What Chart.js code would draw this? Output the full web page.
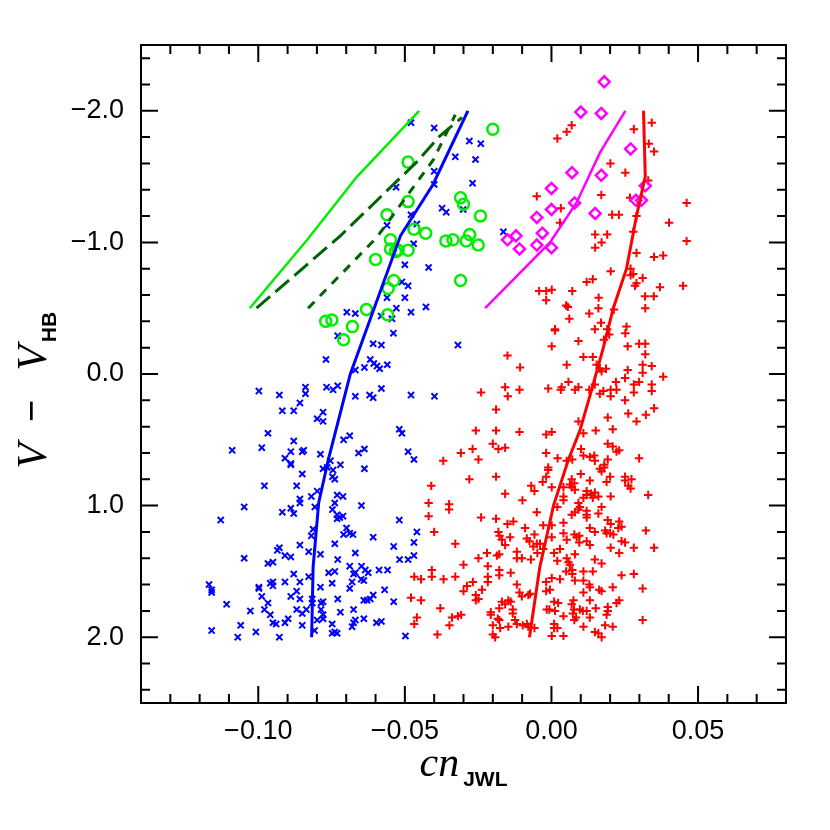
<!DOCTYPE html>
<html>
<head>
<meta charset="utf-8">
<script src="https://cdn.jsdelivr.net/npm/chart.js@4/dist/chart.umd.min.js"></script>
<style>
html,body{margin:0;padding:0;background:#fff;}
#c{display:block;}
</style>
</head>
<body>
<canvas id="c" width="830" height="830"></canvas>
<script>
// ---------- axis setup ----------
const xRange = [-0.14, 0.08];
const yRange = [-2.5, 2.5];
const xMajorTicks = [-0.10, -0.05, 0.00, 0.05];
const xMinorTicks = [-0.13,-0.12,-0.11,-0.09,-0.08,-0.07,-0.06,-0.04,-0.03,-0.02,-0.01,0.01,0.02,0.03,0.04,0.06,0.07];
const yMajorTicks = [-2.0, -1.0, 0.0, 1.0, 2.0];
const yMinorTicks = [-2.4,-2.2,-1.8,-1.6,-1.4,-1.2,-0.8,-0.6,-0.4,-0.2,0.2,0.4,0.6,0.8,1.2,1.4,1.6,1.8,2.2,2.4];

// ---------- data: [cn_JWL, V - V_HB] ----------
const cnWeakRGB = [
[-0.0998,0.13],[-0.0928,0.16],[-0.0858,0.22],[-0.0918,0.28],[-0.0879,0.28],[-0.0967,0.45],[-0.0879,0.51],[-0.1089,0.58],
[-0.0988,0.56],[-0.0889,0.59],[-0.0909,0.64],[-0.0889,0.68],[-0.0889,0.69],[-0.0979,0.85],[-0.0869,0.85],[-0.0858,0.95],
[-0.0858,0.98],[-0.1048,1.01],[-0.0889,1.02],[-0.0918,1.05],[-0.0879,1.06],[-0.1128,1.11],[-0.0858,1.30],[-0.0935,1.34],
[-0.0928,1.32],[-0.0909,1.38],[-0.0889,1.39],[-0.1048,1.40],[-0.0967,1.44],[-0.0950,1.43],[-0.0879,1.52],[-0.1168,1.60],
[-0.1159,1.64],[-0.1159,1.66],[-0.0998,1.62],[-0.0998,1.63],[-0.0959,1.59],[-0.0950,1.58],[-0.0950,1.61],[-0.0909,1.58],
[-0.0858,1.58],[-0.0869,1.65],[-0.0988,1.69],[-0.0889,1.69],[-0.0858,1.71],[-0.1108,1.75],[-0.0967,1.74],[-0.0979,1.79],
[-0.1027,1.80],[-0.0959,1.83],[-0.0869,1.79],[-0.0950,1.89],[-0.0939,1.90],[-0.0909,1.89],[-0.0898,1.86],[-0.1060,1.91],
[-0.1159,1.95],[-0.1008,1.96],[-0.1070,2.00],[-0.0928,2.00],
[-0.0839,0.10],[-0.0839,0.15],[-0.0767,0.10],[-0.0745,0.12],[-0.0729,0.09],[-0.0669,0.17],[-0.0620,0.16],[-0.0608,0.18],
[-0.0580,0.11],[-0.0479,0.16],[-0.0399,0.17],[-0.0779,0.29],[-0.0799,0.34],[-0.0779,0.36],[-0.0519,0.42],[-0.0510,0.45],
[-0.0709,0.50],[-0.0688,0.47],[-0.0658,0.60],[-0.0638,0.57],[-0.0489,0.59],[-0.0469,0.65],[-0.0850,0.59],[-0.0845,0.58],
[-0.0788,0.61],[-0.0754,0.66],[-0.0779,0.72],[-0.0765,0.71],[-0.0745,0.73],[-0.0720,0.69],[-0.0638,0.72],[-0.0850,0.76],
[-0.0747,0.78],[-0.0739,0.80],[-0.0799,0.89],[-0.0819,0.93],[-0.0731,0.92],[-0.0711,0.93],[-0.0807,1.01],[-0.0739,0.98],
[-0.0747,1.03],[-0.0648,1.00],[-0.0731,1.07],[-0.0722,1.09],[-0.0711,1.08],[-0.0731,1.10],[-0.0519,1.11],[-0.0813,1.18],
[-0.0819,1.23],[-0.0699,1.17],[-0.0709,1.22],[-0.0688,1.21],[-0.0677,1.22],[-0.0608,1.24],[-0.0459,1.20],[-0.0739,1.29],
[-0.0538,1.31],[-0.0469,1.28],[-0.0828,1.35],[-0.0788,1.37],[-0.0669,1.36],[-0.0469,1.38],[-0.0489,1.41],[-0.0518,1.41],
[-0.0729,1.41],[-0.0760,1.51],[-0.0739,1.50],[-0.0688,1.46],[-0.0675,1.52],[-0.0669,1.51],[-0.0648,1.46],[-0.0635,1.49],
[-0.0625,1.51],[-0.0588,1.49],[-0.0559,1.49],[-0.0828,1.54],[-0.0748,1.59],[-0.0680,1.58],[-0.0688,1.63],[-0.0649,1.56],
[-0.0640,1.57],[-0.0569,1.64],[-0.0788,1.62],[-0.0816,1.71],[-0.0816,1.74],[-0.0786,1.74],[-0.0779,1.73],[-0.0729,1.71],
[-0.0640,1.72],[-0.0629,1.72],[-0.0618,1.71],[-0.0608,1.68],[-0.0675,1.79],[-0.0720,1.81],[-0.0538,1.73],[-0.0836,1.79],
[-0.0799,1.87],[-0.0779,1.83],[-0.0779,1.86],[-0.0786,1.79],[-0.0748,1.90],[-0.0850,1.91],[-0.0675,1.89],[-0.0680,1.92],
[-0.0669,1.87],[-0.0640,1.86],[-0.0597,1.89],[-0.0580,1.88],[-0.0748,1.97],[-0.0739,1.96],[-0.0731,1.97],[-0.0808,1.95],
[-0.0498,1.99],[-0.0850,1.82],
[-0.0479,-1.91],[-0.0400,-1.87],[-0.0280,-1.77],[-0.0241,-1.75],[-0.0328,-1.65],[-0.0259,-1.63],[-0.0400,-1.54],[-0.0400,-1.44],
[-0.0269,-1.45],[-0.0530,-1.42],[-0.0373,-1.26],[-0.0359,-1.23],[-0.0301,-1.25],[-0.0479,-1.21],[-0.0561,-1.13],[-0.0459,-1.14],
[-0.0470,-0.99],[-0.0500,-0.83],[-0.0419,-0.81],[-0.0510,-0.70],[-0.0489,-0.67],[-0.0561,-0.58],[-0.0500,-0.58],[-0.0428,-0.51],
[-0.0698,-0.47],[-0.0669,-0.46],[-0.0529,-0.50],[-0.0479,-0.47],[-0.0581,-0.44],[-0.0544,-0.42],[-0.0729,-0.29],[-0.0539,-0.31],
[-0.0319,-0.22],[-0.0608,-0.23],[-0.0580,-0.22],[-0.0769,-0.11],[-0.0618,-0.11],[-0.0606,-0.08],[-0.0595,-0.06],[-0.0586,-0.04],
[-0.0638,-0.05],[-0.0669,-0.03],[-0.0560,-0.07],[-0.0164,-1.08]
];

const cnStrongRGB = [
[0.0069,-1.89],[0.0052,-1.84],[0.0020,-1.79],[0.0281,-1.86],[0.0342,-1.91],[0.0332,-1.75],[0.0350,-1.69],[0.0201,-1.60],
[0.0252,-1.53],[0.0330,-1.47],[0.0170,-1.36],[-0.0050,-1.35],[0.0032,-1.26],[0.0029,-1.15],[0.0268,-1.34],[0.0207,-1.21],
[0.0230,-1.21],[0.0290,-1.20],[0.0401,-1.15],[0.0279,-1.08],[0.0149,-1.06],[0.0190,-1.06],[0.0171,-1.00],[0.0149,-0.96],
[0.0290,-0.92],[0.0350,-0.89],[0.0381,-0.90],[0.0202,-0.78],[0.0270,-0.80],[0.0270,-0.75],[0.0279,-0.76],[0.0290,-0.69],
[0.0285,-0.67],[0.0311,-0.73],[0.0120,-0.70],[0.0141,-0.72],[0.0370,-0.66],[0.0319,-0.59],[0.0349,-0.59],[-0.0042,-0.63],
[-0.0018,-0.63],[0.0001,-0.64],[-0.0018,-0.56],[0.0071,-0.63],[0.0050,-0.52],[0.0056,-0.51],[0.0161,-0.58],[0.0160,-0.50],
[0.0129,-0.46],[0.0320,-0.50],[0.0061,-0.42],[0.0213,-0.49],[0.0169,-0.39],[0.0148,-0.34],[0.0190,-0.34],[0.0197,-0.30],
[0.0256,-0.36],[0.0252,-0.31],[0.0012,-0.34],[0.0012,-0.33],[0.0092,-0.25],[0.0001,-0.21],[0.0179,-0.26],[0.0260,-0.21],
[0.0299,-0.23],[0.0320,-0.23],[0.0320,-0.15],[-0.0150,-0.14],[-0.0107,-0.05],[0.0052,-0.07],[0.0109,-0.13],[0.0141,-0.13],
[0.0154,-0.07],[0.0165,-0.04],[0.0186,-0.04],[0.0171,-0.02],[0.0260,-0.03],[0.0311,-0.07],[0.0311,-0.01],[0.0342,-0.06],
[0.0381,0.02],[0.0251,0.03],[0.0461,-1.30],[0.0461,-1.01],[0.0449,-0.67],
[-0.0158,0.10],[-0.0149,0.17],[-0.0109,0.12],[-0.0240,0.14],[-0.0189,0.27],[-0.0258,0.43],[-0.0189,0.43],[-0.0109,0.44],
[-0.0200,0.53],[-0.0181,0.57],[-0.0158,0.56],[-0.0269,0.57],[-0.0309,0.60],[-0.0249,0.65],[-0.0369,0.66],[-0.0280,0.80],
[-0.0189,0.78],[-0.0410,0.85],[-0.0069,0.85],[-0.0058,0.89],[-0.0158,0.91],[-0.0099,0.96],[-0.0419,0.98],[-0.0349,0.99],
[-0.0349,1.03],[-0.0419,1.08],[-0.0240,1.09],[-0.0189,1.10],[-0.0050,1.05],[-0.0150,1.14],[-0.0130,1.12],[-0.0090,1.17],
[-0.0400,1.20],[-0.0181,1.20],[-0.0177,1.23],[-0.0169,1.26],[-0.0141,1.24],[-0.0084,1.25],[-0.0058,1.22],[-0.0075,1.27],
[-0.0328,1.29],[-0.0158,1.30],[-0.0050,1.29],[-0.0062,1.31],[-0.0118,1.35],[-0.0118,1.40],[-0.0220,1.36],[-0.0048,1.36],
[-0.0249,1.40],[-0.0186,1.38],[-0.0178,1.37],[-0.0101,1.40],[-0.0070,1.41],[-0.0300,1.45],[-0.0217,1.46],[-0.0408,1.49],
[-0.0408,1.54],[-0.0178,1.49],[-0.0178,1.53],[-0.0139,1.51],[-0.0445,1.56],[-0.0368,1.56],[-0.0328,1.54],[-0.0217,1.54],
[-0.0217,1.58],[-0.0268,1.58],[-0.0288,1.61],[-0.0300,1.65],[-0.0237,1.64],[-0.0258,1.68],[-0.0258,1.72],[-0.0249,1.71],
[-0.0118,1.60],[-0.0109,1.66],[-0.0101,1.69],[-0.0079,1.68],[-0.0073,1.67],[-0.0169,1.73],[-0.0158,1.75],[-0.0147,1.72],
[-0.0139,1.73],[-0.0178,1.78],[-0.0132,1.79],[-0.0132,1.82],[-0.0207,1.81],[-0.0207,1.83],[-0.0308,1.83],[-0.0319,1.84],
[-0.0339,1.85],[-0.0348,1.91],[-0.0183,1.86],[-0.0178,1.87],[-0.0124,1.87],[-0.0200,1.91],[-0.0200,1.98],[-0.0192,2.00],
[-0.0175,1.93],[-0.0147,1.92],[-0.0118,1.90],[-0.0098,1.91],[-0.0084,1.90],[-0.0079,1.92],[-0.0058,1.93],[-0.0389,1.98],
[-0.0445,1.72],[-0.0379,1.78],[-0.0468,1.54],[-0.0479,1.70],[-0.0459,1.85],[-0.0468,1.90],
[-0.0011,0.11],[0.0035,0.10],[0.0032,0.12],[0.0058,0.06],[0.0080,0.12],[0.0092,0.10],[0.0129,0.12],[0.0148,0.08],
[0.0165,0.15],[0.0177,0.13],[0.0202,0.12],[0.0202,0.17],[0.0222,0.12],[0.0220,0.06],[0.0281,0.08],[0.0281,0.14],
[0.0299,0.06],[0.0342,0.08],[0.0342,0.13],[0.0251,0.20],[0.0350,0.26],[0.0262,0.30],[0.0322,0.31],[0.0290,0.36],
[0.0192,0.33],[0.0209,0.42],[0.0092,0.36],[0.0151,0.43],[0.0109,0.45],[-0.0018,0.46],[0.0001,0.44],[0.0192,0.53],
[0.0209,0.55],[0.0222,0.59],[0.0231,0.58],[0.0101,0.57],[-0.0018,0.60],[0.0021,0.64],[0.0052,0.66],[0.0071,0.65],
[0.0109,0.62],[0.0131,0.63],[0.0146,0.62],[0.0148,0.66],[0.0192,0.65],[0.0299,0.64],[-0.0011,0.71],[-0.0011,0.73],
[0.0180,0.69],[0.0165,0.72],[0.0171,0.74],[0.0180,0.71],[0.0100,0.76],[-0.0018,0.78],[-0.0030,0.82],[0.0200,0.78],
[0.0188,0.82],[0.0251,0.78],[0.0273,0.80],[0.0251,0.81],[0.0262,0.85],[0.0270,0.87],[0.0001,0.86],[0.0069,0.80],
[0.0069,0.86],[0.0078,0.83],[0.0063,0.84],[0.0131,0.81],[0.0041,0.86],[0.0080,0.88],[0.0120,0.89],[0.0120,0.92],
[0.0135,0.91],[0.0148,0.90],[0.0160,0.93],[0.0141,0.94],[0.0109,0.94],[0.0202,0.93],[0.0330,0.92],[0.0041,0.93],
[0.0041,0.96],[0.0020,1.01],[0.0092,0.98],[0.0097,1.01],[0.0092,1.03],[0.0171,1.01],[0.0120,1.04],[0.0120,1.07],
[0.0120,1.09],[0.0160,1.06],[0.0069,1.07],[0.0080,1.05],[0.0192,1.11],[0.0202,1.14],[0.0231,1.12],[0.0239,1.16],
[0.0228,1.17],[-0.0028,1.15],[0.0001,1.15],[0.0041,1.13],[0.0131,1.17],[0.0041,1.21],[0.0148,1.20],[0.0183,1.19],
[0.0188,1.21],[0.0200,1.21],[0.0211,1.22],[0.0078,1.22],[0.0086,1.24],[0.0095,1.23],[0.0001,1.24],[0.0322,1.19],
[0.0052,1.26],[0.0120,1.27],[0.0131,1.30],[0.0239,1.27],[0.0251,1.28],[0.0095,1.28],[-0.0039,1.29],[-0.0028,1.33],
[0.0029,1.33],[0.0202,1.32],[0.0281,1.32],[0.0350,1.32],[0.0009,1.36],[0.0080,1.37],[0.0231,1.36],[0.0052,1.40],
[0.0058,1.43],[0.0063,1.45],[0.0020,1.42],[0.0148,1.41],[0.0171,1.44],[0.0050,1.50],[0.0071,1.49],[0.0071,1.52],
[0.0109,1.50],[0.0141,1.50],[0.0239,1.53],[0.0281,1.52],[0.0001,1.55],[0.0029,1.56],[0.0080,1.57],[0.0109,1.57],
[0.0129,1.60],[0.0131,1.62],[-0.0018,1.58],[0.0311,1.63],[0.0209,1.62],[0.0163,1.64],[0.0171,1.65],[0.0109,1.66],
[-0.0018,1.65],[-0.0005,1.64],[0.0009,1.73],[0.0023,1.74],[0.0075,1.72],[0.0069,1.75],[0.0131,1.72],[0.0222,1.74],
[0.0231,1.72],[-0.0016,1.79],[-0.0007,1.79],[0.0012,1.80],[0.0077,1.79],[0.0073,1.82],[0.0084,1.85],[0.0078,1.87],
[0.0097,1.79],[0.0107,1.80],[0.0120,1.80],[0.0151,1.78],[0.0192,1.77],[0.0192,1.80],[0.0188,1.83],[0.0041,1.84],
[0.0131,1.85],[0.0311,1.87],[0.0009,1.90],[0.0009,1.93],[0.0020,1.93],[0.0109,1.92],[0.0183,1.91],[0.0209,1.92],
[0.0148,1.96],[0.0160,1.97],[0.0001,1.99],[0.0041,1.99],[0.0171,2.00]
];

const agbWeak = [
[-0.0489,-1.61],[-0.0489,-1.31],[-0.0561,-1.21],[-0.0469,-1.10],[-0.0429,-1.07],[-0.0549,-1.02],[-0.0549,-0.95],[-0.0532,-0.93],
[-0.0523,-0.94],[-0.0489,-0.94],[-0.0600,-0.87],[-0.0310,-1.34],[-0.0300,-1.29],[-0.0242,-1.20],[-0.0360,-1.01],[-0.0336,-1.02],
[-0.0279,-1.06],[-0.0291,-1.01],[-0.0250,-0.98],[-0.0538,-0.71],[-0.0557,-0.65],[-0.0310,-0.71],[-0.0631,-0.49],[-0.0770,-0.40],
[-0.0749,-0.41],[-0.0679,-0.36],[-0.0559,-0.45],[-0.0709,-0.26],[-0.0200,-1.86]
];

const agbStrong = [
[0.0180,-2.22],[0.0100,-1.99],[0.0170,-1.98],[0.0270,-1.71],[0.0070,-1.53],[0.0170,-1.51],[0.0000,-1.41],[0.0320,-1.43],
[0.0288,-1.32],[0.0307,-1.32],[0.0079,-1.30],[0.0000,-1.25],[0.0149,-1.22],[-0.0050,-1.19],[-0.0031,-1.07],[-0.0121,-1.05],
[-0.0150,-1.02],[-0.0050,-0.98],[0.0000,-0.96],[-0.0109,-0.95]
];

// fiducial sequences
const rgbWeakFit   = [[-0.0285,-2.0],[-0.0404,-1.44],[-0.0515,-1.05],[-0.0686,0.0],[-0.0761,0.65],[-0.0794,0.98],[-0.0813,1.47],[-0.0818,2.0]];
const rgbStrongFit = [[0.0314,-2.0],[0.0320,-1.5],[0.0290,-1.2],[0.0256,-0.8],[0.0211,-0.5],[0.0177,-0.2],[0.0137,0.12],[0.0097,0.43],[0.0058,0.65],[0.0007,1.0],[-0.0040,1.47],[-0.0075,2.0]];
const agbStrongFit = [[-0.0226,-0.5],[-0.0005,-1.0],[0.0085,-1.3],[0.0165,-1.68],[0.0252,-2.0]];
const agbWeakFit   = [[-0.1029,-0.5],[-0.0833,-1.02],[-0.0663,-1.5],[-0.0451,-2.0]];
const modelLong    = [[-0.1006,-0.5],[-0.0720,-1.05],[-0.0460,-1.61],[-0.0380,-1.81],[-0.0305,-1.95]];
const modelShort   = [[-0.0830,-0.5],[-0.0595,-1.04],[-0.0402,-1.63],[-0.0328,-1.97]];

const toXY = a => a.map(p => ({x: p[0], y: p[1]}));
const fmtMinus = s => s.replace('-', '\u2212');

function lineDS(arr, color, width, dash) {
  return {type: 'line', data: toXY(arr), borderColor: color, borderWidth: width,
          borderDash: dash || [], pointRadius: 0, fill: false, tension: 0, showLine: true};
}
function ptDS(arr, style, color, r, w) {
  return {type: 'scatter', data: toXY(arr), pointStyle: style, pointRadius: r,
          borderColor: color, backgroundColor: 'rgba(0,0,0,0)', pointBorderWidth: w, borderWidth: w};
}

const TITLE_SERIF = 'italic 42px "Liberation Serif"';
const TITLE_SUB = 'bold 21px "Liberation Sans"';
const TITLE_MINUS = '38px "Liberation Sans"';

const framePlugin = {
  id: 'frame',
  afterDraw(chart) {
    const {ctx, chartArea: a, scales: {x, y}} = chart;
    ctx.save();
    ctx.strokeStyle = '#000';
    ctx.lineWidth = 2;
    ctx.lineCap = 'butt';
    ctx.beginPath();
    const tick = (vals, len) => {
      vals.forEach(v => {
        const px = x.getPixelForValue(v);
        ctx.moveTo(px, a.bottom); ctx.lineTo(px, a.bottom - len);
        ctx.moveTo(px, a.top); ctx.lineTo(px, a.top + len);
      });
    };
    const ticky = (vals, len) => {
      vals.forEach(v => {
        const py = y.getPixelForValue(v);
        ctx.moveTo(a.left, py); ctx.lineTo(a.left + len, py);
        ctx.moveTo(a.right, py); ctx.lineTo(a.right - len, py);
      });
    };
    tick(xMajorTicks, 17); tick(xMinorTicks, 9);
    ticky(yMajorTicks, 17); ticky(yMinorTicks, 9);
    ctx.stroke();
    ctx.strokeRect(a.left, a.top, a.right - a.left, a.bottom - a.top);

    // x title: cn_JWL
    ctx.fillStyle = '#000';
    ctx.textBaseline = 'alphabetic';
    ctx.textAlign = 'left';
    const cx = (a.left + a.right) / 2;
    ctx.font = TITLE_SERIF;
    const w1 = ctx.measureText('cn').width;
    ctx.font = TITLE_SUB;
    const w2 = ctx.measureText('JWL').width;
    let sx = cx - (w1 + 4 + w2) / 2;
    ctx.font = TITLE_SERIF;
    ctx.fillText('cn', sx, 776);
    ctx.font = TITLE_SUB;
    ctx.fillText('JWL', sx + w1 + 4, 786);

    // y title: V − V_HB (rotated, reads bottom to top)
    ctx.save();
    const cy = (a.top + a.bottom) / 2;
    ctx.translate(46, cy);
    ctx.rotate(-Math.PI / 2);
    ctx.font = TITLE_SERIF;
    const wV = ctx.measureText('V').width;
    const v1c = -82, mc = -37, v2c = 16;
    ctx.textAlign = 'center';
    ctx.fillText('V', v1c, 0);
    ctx.font = TITLE_MINUS;
    ctx.fillText('\u2212', mc, -2);
    ctx.font = TITLE_SERIF;
    ctx.fillText('V', v2c, 0);
    ctx.textAlign = 'left';
    ctx.font = TITLE_SUB;
    ctx.fillText('HB', v2c + wV / 2 + 3, 10);
    ctx.restore();
    ctx.restore();
  }
};

new Chart(document.getElementById('c'), {
  data: {
    datasets: [
      lineDS(rgbWeakFit, '#0000ff', 3),
      lineDS(rgbStrongFit, '#ff0000', 3),
      lineDS(agbStrongFit, '#ff00ff', 2.5),
      lineDS(agbWeakFit, '#00ee00', 2.5),
      lineDS(modelLong, '#006400', 3, [18, 7]),
      lineDS(modelShort, '#006400', 3, [9, 8]),
      ptDS(agbWeak, 'circle', '#00ee00', 5.5, 2.5),
      ptDS(agbStrong, 'rectRot', '#ff00ff', 5.5, 2.5),
      ptDS(cnWeakRGB, 'crossRot', '#0000ff', 4.3, 2),
      ptDS(cnStrongRGB, 'cross', '#ff0000', 4.2, 2)
    ]
  },
  options: {
    responsive: false,
    animation: false,
    devicePixelRatio: 1,
    layout: {padding: {left: 0, right: 44, top: 45, bottom: 0}},
    plugins: {legend: {display: false}, tooltip: {enabled: false}},
    scales: {
      x: {
        type: 'linear', min: xRange[0], max: xRange[1],
        grid: {display: false, drawTicks: false}, border: {display: false},
        afterBuildTicks: s => { s.ticks = xMajorTicks.map(v => ({value: v})); },
        afterFit: s => { s.height = 127; },
        ticks: {padding: 12, color: '#000', font: {family: '"Liberation Sans"', size: 27},
                callback: v => fmtMinus(Number(v).toFixed(2))}
      },
      y: {
        type: 'linear', min: yRange[0], max: yRange[1], reverse: true,
        grid: {display: false, drawTicks: false}, border: {display: false},
        afterBuildTicks: s => { s.ticks = yMajorTicks.map(v => ({value: v})); },
        afterFit: s => { s.width = 141; },
        ticks: {padding: 17, color: '#000', font: {family: '"Liberation Sans"', size: 27},
                callback: v => fmtMinus(Number(v).toFixed(1))}
      }
    }
  },
  plugins: [framePlugin]
});
</script>
</body>
</html>
